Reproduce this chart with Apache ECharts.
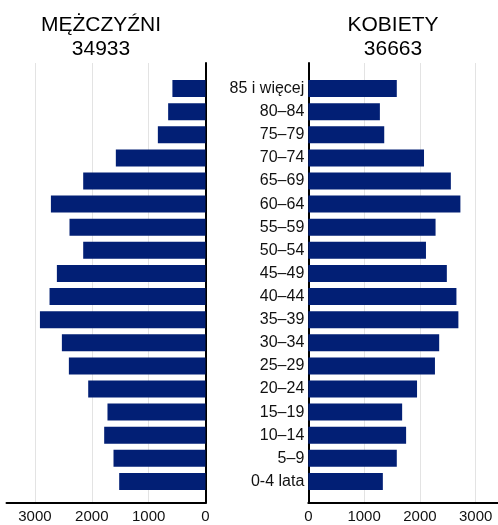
<!DOCTYPE html>
<html>
<head>
<meta charset="utf-8">
<script src="https://cdn.jsdelivr.net/npm/echarts@6/dist/echarts.min.js"></script>
<style>
html,body{margin:0;padding:0;background:#fff;}
#chart{width:498px;height:525px;}
</style>
</head>
<body>
<div id="chart"></div>
<script>
const categories = ['85 i więcej','80–84','75–79','70–74','65–69','60–64','55–59','50–54','45–49','40–44','35–39','30–34','25–29','20–24','15–19','10–14','5–9','0-4 lata'];
const males   = [582,657,838,1577,2151,2719,2392,2151,2614,2743,2912,2526,2403,2063,1724,1782,1618,1518];
const females = [1586,1283,1361,2074,2555,2726,2281,2109,2483,2655,2690,2346,2270,1949,1682,1753,1586,1336];
const maleTitle = 'MĘŻCZYŹNI';
const femaleTitle = 'KOBIETY';
const maleTotal = '34933';
const femaleTotal = '36663';

const FONT = '"Liberation Sans", Arial, sans-serif';
const BAR = '#021f75';
const GRIDC = '#e3e3e3';

const chart = echarts.init(document.getElementById('chart'), null, {renderer:'canvas'});

const frameX = (inv, max) => ({
  type:'value', min:0, max:max, interval:1000, inverse:inv,
  axisLine:{show:true, onZero:false, lineStyle:{color:'#000', width:2}},
  axisTick:{show:false},
  splitLine:{show:true, showMaxLine:false, lineStyle:{color:GRIDC, width:1}},
  axisLabel:{show:true, margin:6, fontFamily:FONT, fontSize:15, color:'#111', showMaxLabel:false,
    formatter: v => (v % 1000 === 0 ? String(v) : '')}
});
const hiddenX = (inv, max) => ({
  type:'value', min:0, max:max, inverse:inv, show:false
});

const option = {
  animation:false,
  grid:[
    {left:6.5, right:292.5, top:63, bottom:22},   // 0 left frame
    {left:6.5, right:292.5, top:77, bottom:32},   // 1 left bars
    {left:308.3, right:0, top:63, bottom:22},     // 2 right frame
    {left:308.3, right:0, top:77, bottom:32}      // 3 right bars
  ],
  xAxis:[
    Object.assign(frameX(true, 3500), {gridIndex:0}),
    Object.assign(hiddenX(true, 3500), {gridIndex:1}),
    Object.assign(frameX(false, 3400), {gridIndex:2}),
    Object.assign(hiddenX(false, 3400), {gridIndex:3})
  ],
  yAxis:[
    {gridIndex:0, type:'value', min:0, max:1, position:'right',
      axisLine:{show:true, onZero:false, lineStyle:{color:'#000', width:2}},
      axisTick:{show:false}, axisLabel:{show:false}, splitLine:{show:false}},
    {gridIndex:1, type:'category', data:categories, inverse:true,
      axisLine:{show:false}, axisTick:{show:false}, axisLabel:{show:false}, splitLine:{show:false}},
    {gridIndex:2, type:'value', min:0, max:1, position:'left',
      axisLine:{show:true, onZero:false, lineStyle:{color:'#000', width:2}},
      axisTick:{show:false}, axisLabel:{show:false}, splitLine:{show:false}},
    {gridIndex:3, type:'category', data:categories, inverse:true, position:'left',
      axisLine:{show:false}, axisTick:{show:false}, splitLine:{show:false},
      axisLabel:{show:true, margin:4, fontFamily:FONT, fontSize:16, color:'#111'}}
  ],
  series:[
    {type:'bar', xAxisIndex:1, yAxisIndex:1, data:males, barWidth:17,
      itemStyle:{color:BAR}, silent:true},
    {type:'bar', xAxisIndex:3, yAxisIndex:3, data:females, barWidth:17,
      itemStyle:{color:BAR}, silent:true}
  ],
  graphic:[
    {type:'text', x:101, y:25, style:{text:maleTitle, font:'21px '+FONT, fill:'#000', textAlign:'center', textVerticalAlign:'middle'}},
    {type:'text', x:101, y:49, style:{text:maleTotal, font:'21px '+FONT, fill:'#000', textAlign:'center', textVerticalAlign:'middle'}},
    {type:'text', x:393, y:25, style:{text:femaleTitle, font:'21px '+FONT, fill:'#000', textAlign:'center', textVerticalAlign:'middle'}},
    {type:'text', x:393, y:49, style:{text:femaleTotal, font:'21px '+FONT, fill:'#000', textAlign:'center', textVerticalAlign:'middle'}}
  ]
};
chart.setOption(option);
</script>
</body>
</html>
